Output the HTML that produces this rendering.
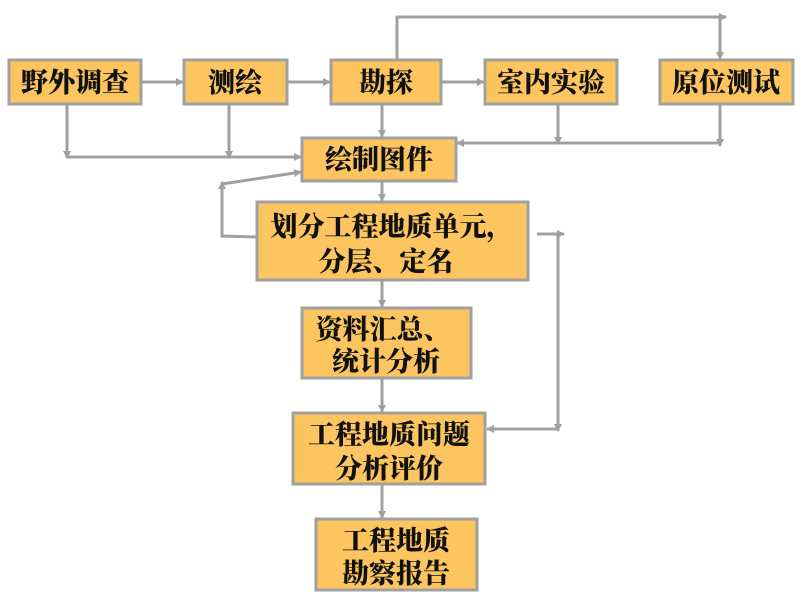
<!DOCTYPE html>
<html><head><meta charset="utf-8"><style>
html,body{margin:0;padding:0;background:#fff;width:800px;height:600px;overflow:hidden}
text{font-family:"Liberation Serif","Noto Serif CJK SC",serif;font-weight:900;font-size:27px;fill:#111;text-anchor:middle}
</style></head><body>
<svg width="800" height="600" viewBox="0 0 800 600" xmlns="http://www.w3.org/2000/svg">
<defs><marker id="a" markerWidth="8" markerHeight="8" refX="7" refY="4" orient="auto" markerUnits="userSpaceOnUse"><path d="M0,0 L8,4 L0,8 z" fill="#a0a0a0"/></marker></defs>
<g stroke="#a0a0a0" stroke-width="3" fill="none">
<line x1="141" y1="82" x2="183" y2="82" marker-end="url(#a)"/>
<line x1="287" y1="82" x2="330" y2="82" marker-end="url(#a)"/>
<line x1="441" y1="82" x2="484" y2="82" marker-end="url(#a)"/>
<polyline points="397,60 397,17 726,17" marker-end="url(#a)"/>
<line x1="720" y1="17" x2="720" y2="59" marker-end="url(#a)"/>
<line x1="67" y1="104" x2="67" y2="158" marker-end="url(#a)"/>
<line x1="229" y1="104" x2="229" y2="158" marker-end="url(#a)"/>
<line x1="67" y1="157" x2="301" y2="157" marker-end="url(#a)"/>
<line x1="382" y1="104" x2="382" y2="137" marker-end="url(#a)"/>
<line x1="558" y1="104" x2="558" y2="144" marker-end="url(#a)"/>
<line x1="720" y1="104" x2="720" y2="146" marker-end="url(#a)"/>
<line x1="720" y1="143" x2="457" y2="143" marker-end="url(#a)"/>
<line x1="382" y1="181" x2="382" y2="201" marker-end="url(#a)"/>
<polyline points="256,237 222,236 222,182" marker-end="url(#a)"/>
<line x1="222" y1="184" x2="301" y2="172" marker-end="url(#a)"/>
<line x1="537" y1="234" x2="564" y2="234" marker-end="url(#a)"/>
<polyline points="558,234 558,430" />
<line x1="558" y1="429" x2="487" y2="429" marker-end="url(#a)"/>
<line x1="558" y1="426" x2="558" y2="431" marker-end="url(#a)"/>
<line x1="382" y1="280" x2="382" y2="307" marker-end="url(#a)"/>
<line x1="382" y1="378" x2="382" y2="412" marker-end="url(#a)"/>
<line x1="382" y1="484" x2="382" y2="518" marker-end="url(#a)"/>
</g>
<g fill="#fcc55f" stroke="#a0a0a0" stroke-width="3">
<rect x="9" y="60" width="132" height="44"/>
<rect x="184" y="60" width="103" height="44"/>
<rect x="331" y="60" width="110" height="44"/>
<rect x="485" y="60" width="132" height="44"/>
<rect x="660" y="60" width="133" height="44"/>
<rect x="302" y="138" width="154" height="43"/>
<rect x="257" y="202" width="271" height="78"/>
<rect x="302" y="308" width="169" height="70"/>
<rect x="293" y="413" width="192" height="71"/>
<rect x="316" y="519" width="161" height="71"/>
</g>
<text x="75" y="92">野外调查</text>
<text x="235" y="92">测绘</text>
<text x="386" y="92">勘探</text>
<text x="551" y="92">室内实验</text>
<text x="726" y="92">原位测试</text>
<text x="379" y="169">绘制图件</text>
<text x="392" y="236">划分工程地质单元，</text>
<text x="386" y="271">分层、定名</text>
<text x="383" y="339">资料汇总、</text>
<text x="386" y="371">统计分析</text>
<text x="389" y="444">工程地质问题</text>
<text x="389" y="478">分析评价</text>
<text x="396" y="550">工程地质</text>
<text x="396" y="583">勘察报告</text>
</svg>
</body></html>
